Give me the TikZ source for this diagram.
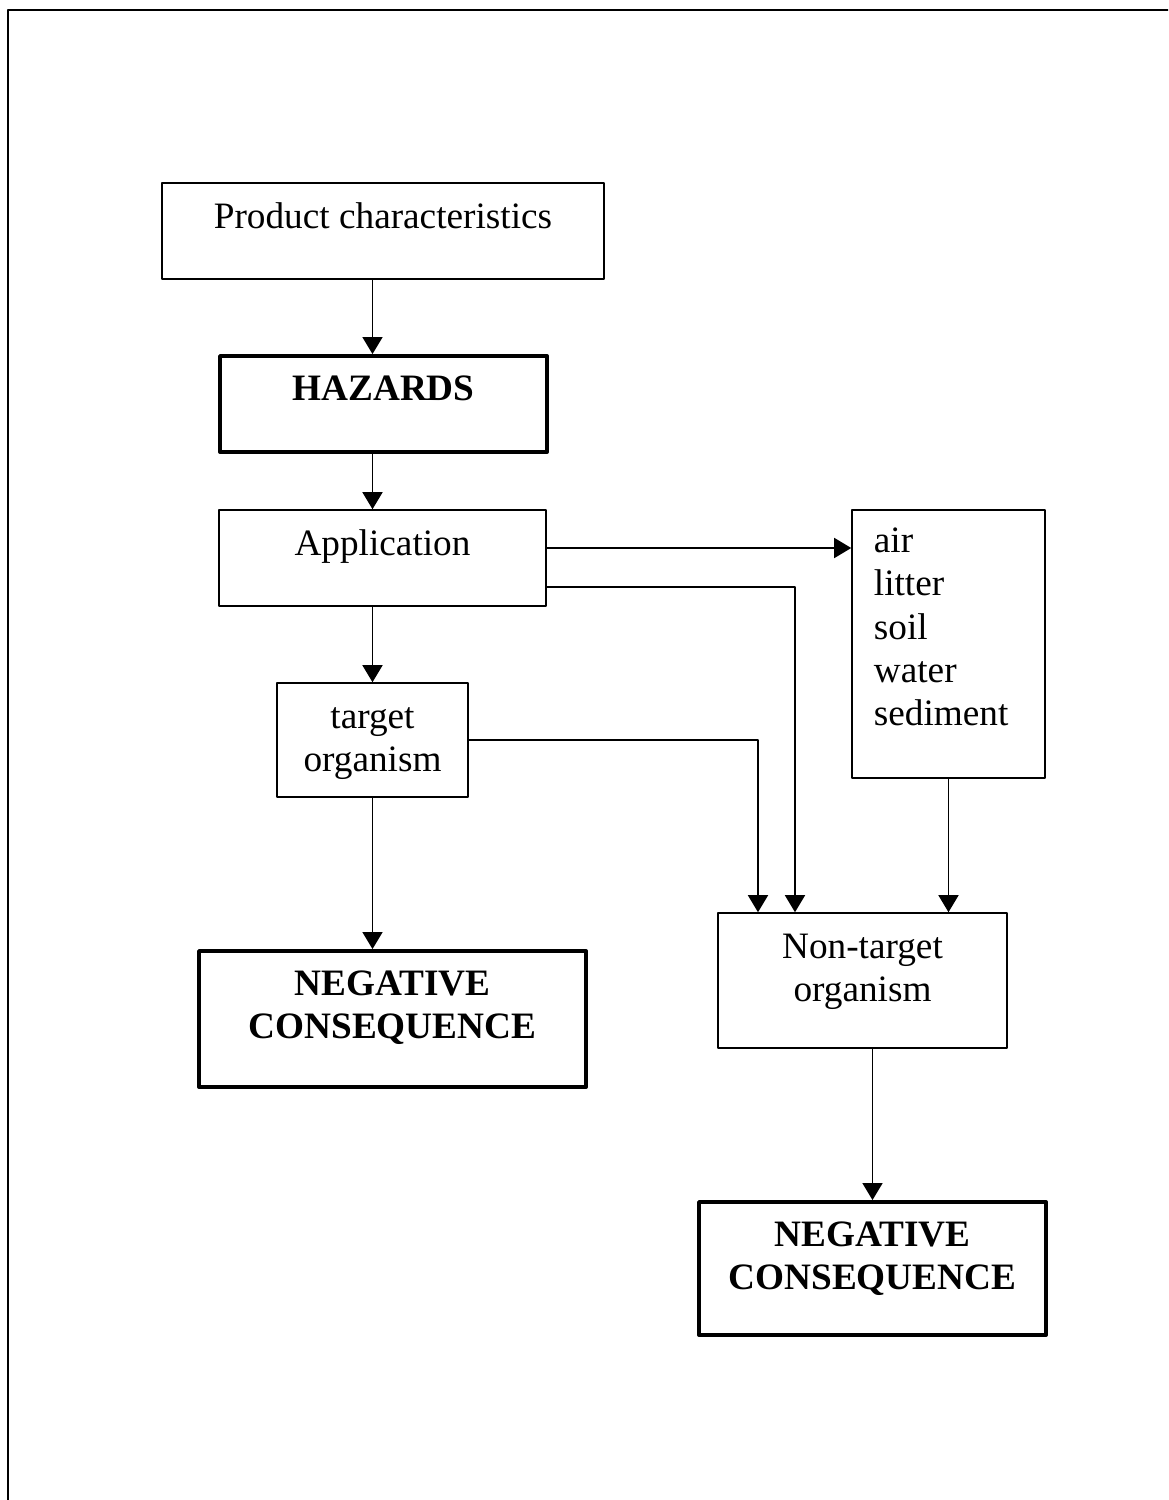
\documentclass[tikz,border=0pt]{standalone}
\usepackage{fontspec}
\setmainfont{Liberation Serif}
\usetikzlibrary{arrows.meta,calc}

\begin{document}
\begin{tikzpicture}[line cap=round,line join=round,>={Triangle[length=1.7mm,width=2mm]},x=1cm,y=1cm,
  box/.style={draw,line width=0.45pt,inner sep=0pt},
  hbox/.style={box,line width=1.1pt},
  lbl/.style={anchor=base,inner sep=0pt,align=center,yshift=-0.46cm,font=\fontsize{10.6}{12.35}\selectfont},
  lbltwo/.style={lbl,yshift=-12.35pt},
  lbll/.style={anchor=base west,inner sep=0pt,align=left,xshift=0.22cm,yshift=-0.43cm,yshift=-49.4pt,font=\fontsize{10.6}{12.35}\selectfont},
  conn/.style={->,line width=0.45pt}]
\clip(0, 0)rectangle(11.68, -15);
\draw[line width=0.6pt] (0.08, -0.10) rectangle (12, -16);

\node[box,minimum width=4.42cm,minimum height=0.96cm,label={[lbl]north:Product characteristics}] (prod) at (3.83, -2.31) {};
\node[hbox,minimum width=3.27cm,minimum height=0.96cm,label={[lbl]north:\textbf{HAZARDS}}] (haz) at (3.835, -4.04) {};
\node[box,minimum width=3.27cm,minimum height=0.96cm,label={[lbl]north:Application}] (app) at (3.825, -5.58) {};
\node[box,minimum width=1.93cm,minimum height=2.68cm,label={[lbll]north west:air\\ litter\\ soil\\ water\\ sediment}] (media) at (9.485, -6.44) {};
\node[box,minimum width=1.91cm,minimum height=1.14cm,label={[lbltwo]north:target\\ organism}] (target) at (3.725, -7.40) {};
\node[hbox,minimum width=3.87cm,minimum height=1.36cm,label={[lbltwo]north:\textbf{NEGATIVE}\\ \textbf{CONSEQUENCE}}] (neg1) at (3.925, -10.19) {};
\node[box,minimum width=2.89cm,minimum height=1.35cm,label={[lbltwo]north:Non-target\\ organism}] (nontgt) at (8.625, -9.805) {};
\node[hbox,minimum width=3.47cm,minimum height=1.33cm,label={[lbltwo]north:\textbf{NEGATIVE}\\ \textbf{CONSEQUENCE}}] (neg2) at (8.725, -12.685) {};
\coordinate (appr) at ($(app.east)+(0, 0.10)$);
\coordinate (appl) at ($(app.east)+(0, -0.29)$);

\draw[conn] (prod.south -| target.north) -- (haz.north -| target.north);
\draw[conn] (haz.south -| target.north) -- (app.north -| target.north);
\draw[conn] (app.south -| target.north) -- (target.north);
\draw[conn] (target.south) -- (target.south |- neg1.north);
\draw[conn] (appr) -- (appr -| media.west);
\draw[conn] (appl) -| ($(nontgt.north)+(-0.675, 0)$);
\draw[conn] (target.east) -| ($(nontgt.north)+(-1.045, 0)$);
\draw[conn] (media.south) -- (media.south |- nontgt.north);
\draw[conn] (nontgt.south -| neg2.north) -- (neg2.north);
\end{tikzpicture}
\end{document}
